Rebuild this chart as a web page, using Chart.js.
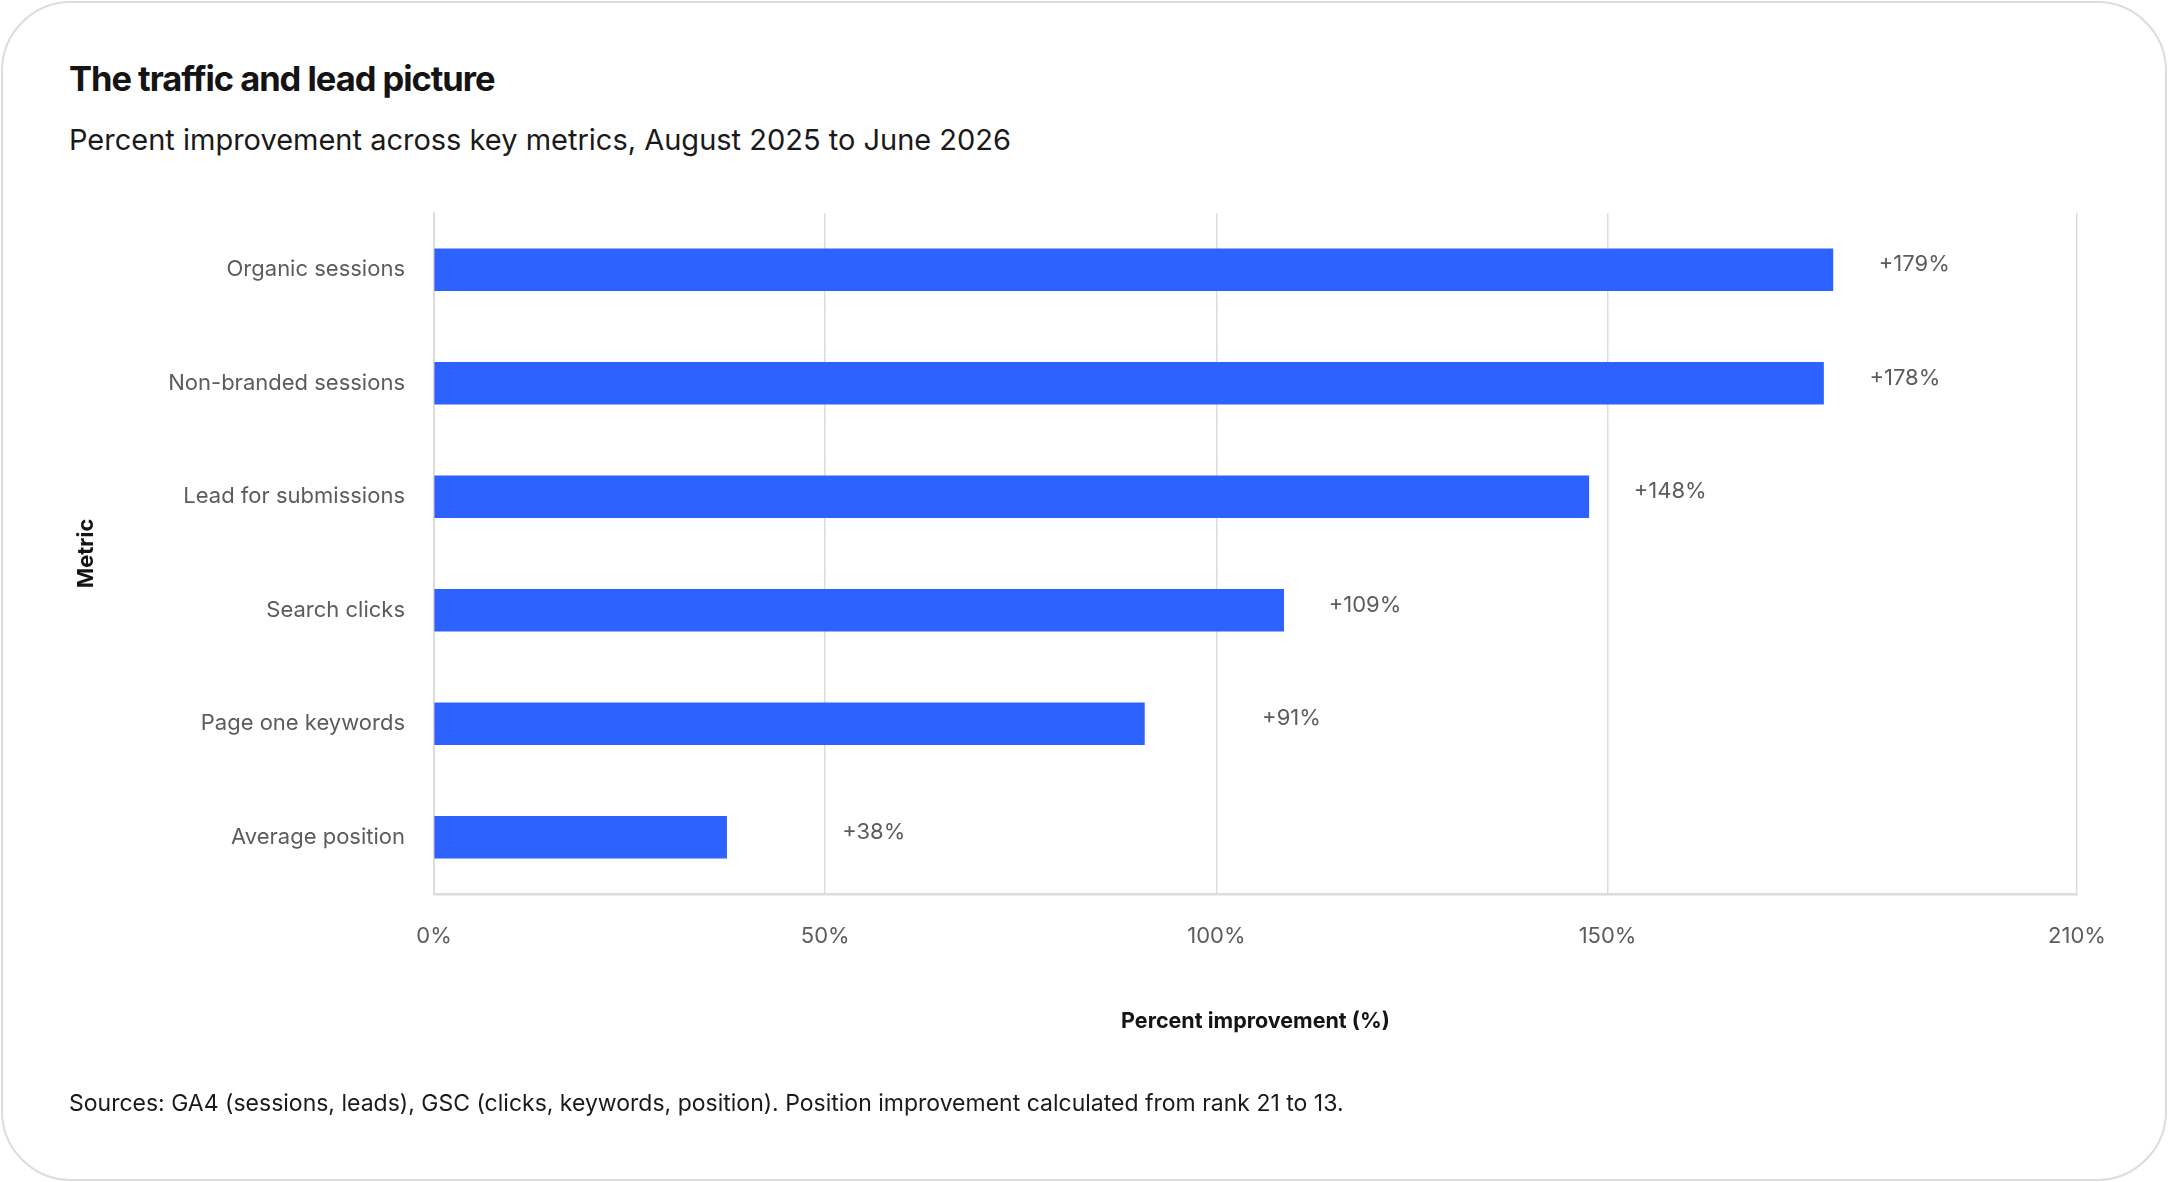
<!DOCTYPE html>
<html>
<head>
<meta charset="utf-8">
<script src="https://cdn.jsdelivr.net/npm/chart.js@4.4.1/dist/chart.umd.min.js"></script>
<style>
  html, body { margin: 0; padding: 0; background: #ffffff; }
  body { width: 2168px; height: 1182px; position: relative; overflow: hidden; font-family: Inter, "Noto Sans", sans-serif; }
  #card { position: absolute; left: 1px; top: 1px; width: 2162px; height: 1176px; border: 2px solid #dcdcdc; border-radius: 70px; background: #fff; }
  #title { position: absolute; left: 69px; top: 61px; font-size: 34.5px; line-height: 35px; font-weight: 700; letter-spacing: -0.03em; color: #141414; white-space: nowrap; }
  #subtitle { position: absolute; left: 69px; top: 125px; font-size: 29px; line-height: 29px; font-weight: 400; letter-spacing: 0; color: #1a1a1a; white-space: nowrap; }
  #note { position: absolute; left: 69px; top: 1092px; font-size: 23px; line-height: 23px; font-weight: 400; color: #1a1a1a; white-space: nowrap; }
  #chart { position: absolute; left: 0; top: 0; }
</style>
</head>
<body>
<div id="card"></div>
<div id="title">The traffic and lead picture</div>
<div id="subtitle">Percent improvement across key metrics, August 2025 to June 2026</div>
<canvas id="chart" width="2168" height="1182" style="width:2168px;height:1182px"></canvas>
<div id="note">Sources: GA4 (sessions, leads), GSC (clicks, keywords, position). Position improvement calculated from rank 21 to 13.</div>
<script>
const categories = ["Organic sessions", "Non-branded sessions", "Lead for submissions", "Search clicks", "Page one keywords", "Average position"];
const improvement = [178.8, 177.6, 147.6, 108.6, 90.8, 37.4];
const valueLabels = ["+179%", "+178%", "+148%", "+109%", "+91%", "+38%"];
const xTickValues = [0, 50, 100, 150, 210];
const xTitle = "Percent improvement (%)";
const yTitle = "Metric";

const FONT = "Inter";
const BAR = "#2e62ff";
const GRID = "#dcdcdc";
const LABEL = "#5c5c5c";

const valueLabelPlugin = {
  id: "valueLabels",
  afterDatasetsDraw(chart) {
    const ctx = chart.ctx;
    const xs = chart.scales.x, ys = chart.scales.y;
    ctx.save();
    ctx.font = "400 22px " + FONT;
    ctx.fillStyle = LABEL;
    ctx.textAlign = "center";
    ctx.textBaseline = "middle";
    improvement.forEach((v, i) => {
      const off = v >= 100 ? 10.4 : 18.8;
      const x = xs.getPixelForValue(v + off);
      const y = ys.getPixelForValue(i) - 5;
      ctx.fillText(valueLabels[i], x, y);
    });
    ctx.restore();
  }
};

new Chart(document.getElementById("chart"), {
  type: "bar",
  data: {
    labels: categories,
    datasets: [{
      data: improvement,
      backgroundColor: BAR,
      borderWidth: 0,
      barThickness: 42
    }]
  },
  options: {
    indexAxis: "y",
    responsive: false,
    animation: false,
    devicePixelRatio: 1,
    layout: { padding: { left: 60, right: 91, top: 213, bottom: 130 } },
    plugins: { legend: { display: false }, tooltip: { enabled: false }, title: { display: false } },
    scales: {
      x: {
        type: "linear",
        min: 0,
        max: 210,
        afterBuildTicks(scale) { scale.ticks = xTickValues.map(v => ({ value: v })); },
        afterFit(scale) { scale.height = 158; },
        grid: { color: GRID, lineWidth: 1.5, drawTicks: false },
        border: { display: true, color: GRID, width: 2.5 },
        ticks: {
          padding: 29,
          color: LABEL,
          font: { family: FONT, size: 22 },
          callback: v => v + "%"
        },
        title: {
          display: true,
          text: xTitle,
          color: "#141414",
          font: { family: FONT, size: 21.5, weight: "700" },
          padding: { top: 0, bottom: 18 }
        }
      },
      y: {
        type: "category",
        afterFit(scale) { scale.width = 374; },
        grid: { display: false, drawTicks: false },
        border: { display: true, color: GRID, width: 2 },
        ticks: {
          padding: 29,
          color: LABEL,
          font: { family: FONT, size: 22 }
        },
        title: {
          display: true,
          text: yTitle,
          color: "#141414",
          font: { family: FONT, size: 22, weight: "700" },
          padding: { top: 13, bottom: 0 }
        }
      }
    }
  },
  plugins: [valueLabelPlugin]
});
</script>
</body>
</html>
